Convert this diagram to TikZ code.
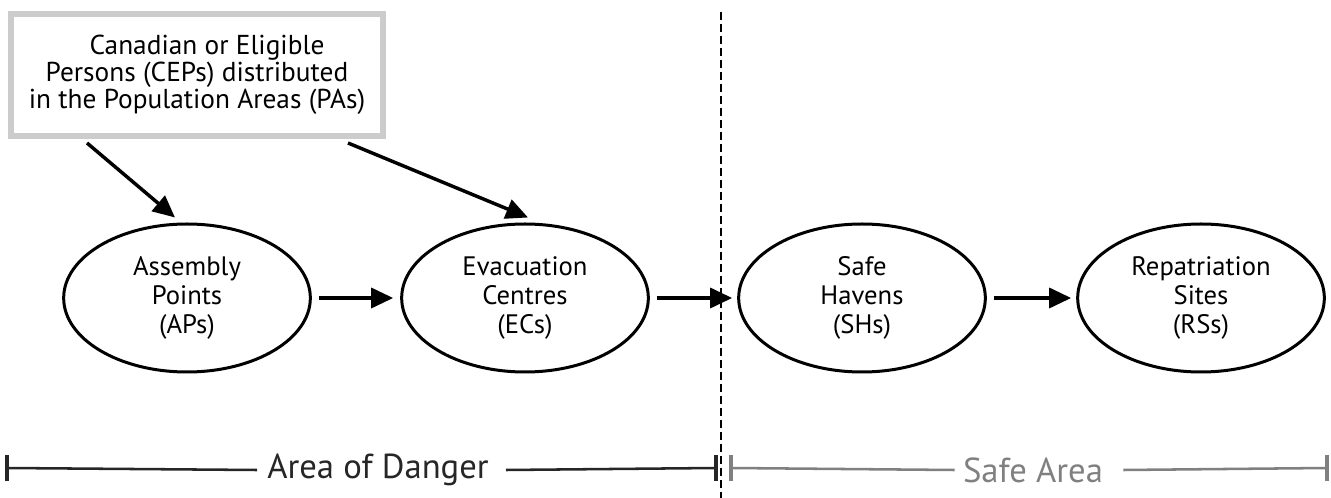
\documentclass[tikz,border=0pt]{standalone}
\usepackage{fontspec}
\setmainfont{PT Sans}
\usetikzlibrary{arrows.meta,shapes.geometric}
\definecolor{boxgray}{HTML}{CCCCCC}
\definecolor{bardark}{HTML}{262626}
\definecolor{barlight}{HTML}{808080}
\begin{document}
\begin{tikzpicture}[x=0.75pt,y=-0.75pt,
  place/.style={ellipse, draw, line width=2.25pt, minimum width=185pt, minimum height=111pt,
    align=center, inner sep=0pt, font=\fontsize{20}{22}\selectfont},
  flow/.style={line width=2.6pt, -{Triangle[length=16.5pt,width=15pt]}},
  srcbox/.style={draw=boxgray, line width=4.5pt, minimum width=279pt, minimum height=91.5pt,
    align=center, inner sep=0pt, font=\fontsize{20.5}{20.25}\selectfont},
  barlabel/.style={font=\fontsize{26}{30}\selectfont, inner sep=0pt},
  darkbar/.style={draw=bardark, line width=1.9pt},
  lightbar/.style={draw=barlight, line width=1.9pt}
]
\useasboundingbox (0,0) rectangle (1331,498);

% source box
\node[srcbox] (cep) at (197,75) {\hspace*{15pt}Canadian or Eligible\\Persons (CEPs) distributed\\in the Population Areas (PAs)};

% places
\node[place] (ap) at (187,298) {Assembly\\Points\\(APs)};
\node[place] (ec) at (525,298) {Evacuation\\Centres\\(ECs)};
\node[place] (sh) at (862,298) {Safe\\Havens\\(SHs)};
\node[place] (rs) at (1201,298) {Repatriation\\Sites\\(RSs)};

% divider
\coordinate (divtop) at (721,12);
\coordinate (divbot) at (721,498);
\draw[line width=1.1pt, dash pattern=on 6pt off 3pt] (divtop) -- (divbot);

% flows
\draw[flow, shorten <=5pt, shorten >=5.25pt] (ap.east) -- (ec.west);
\draw[flow, shorten <=5pt, shorten >=3.75pt] (ec.east) -- (sh.west);
\draw[flow, shorten <=5.25pt, shorten >=3.75pt] (sh.east) -- (rs.west);
\draw[flow] ([xshift=79*0.75pt, yshift=-3pt]cep.south west) -- ([shift={(-12,-5)}]ap.north);
\draw[flow] ([xshift=340*0.75pt, yshift=-3pt]cep.south west) -- ([shift={(3,-5)}]ec.north);

% bottom bars
\node[barlabel, text=bardark] (danger) at (378,470) {Area of Danger};
\node[barlabel, text=barlight] (safe) at (1033,470) {Safe Area};
\coordinate (dl) at (7,468);
\coordinate (dr) at (716,468);
\coordinate (sl) at (731,468);
\coordinate (sr) at (1327,468);
\draw[darkbar] (dl) -- ([xshift=-10*0.75pt]danger.west);
\draw[darkbar] ([xshift=17*0.75pt]danger.east) -- (dr);
\draw[darkbar, line width=2.4pt] ([yshift=9.75pt]dl) -- ([yshift=-9.75pt]dl);
\draw[darkbar, line width=2.4pt] ([yshift=9.75pt]dr) -- ([yshift=-9.75pt]dr);
\draw[lightbar] (sl) -- ([xshift=-8*0.75pt]safe.west);
\draw[lightbar] ([xshift=20*0.75pt]safe.east) -- (sr);
\draw[lightbar, line width=2.4pt] ([yshift=9.75pt]sl) -- ([yshift=-9.75pt]sl);
\draw[lightbar, line width=2.4pt] ([yshift=9.75pt]sr) -- ([yshift=-9.75pt]sr);
\end{tikzpicture}
\end{document}
